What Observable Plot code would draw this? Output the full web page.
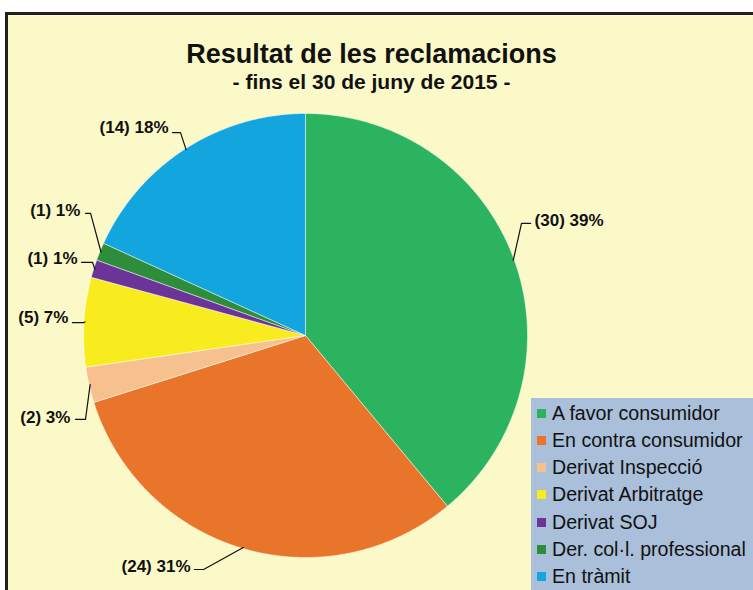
<!DOCTYPE html>
<html><head><meta charset="utf-8">
<script src="https://cdn.jsdelivr.net/npm/d3@7"></script>
<script src="https://cdn.jsdelivr.net/npm/@observablehq/plot@0.6"></script>
<style>
html,body{margin:0;padding:0;background:#fff}
body{width:753px;height:590px;overflow:hidden;position:relative;font-family:"Liberation Sans",Arial,sans-serif}
#frame{position:absolute;left:5px;top:12px;width:760px;height:590px;background:#FCF9C8;border-top:3px solid #231F20;border-left:3px solid #231F20}
#chart{position:absolute;left:0;top:0}
.t{position:absolute;left:0;width:743px;text-align:center;font-weight:bold;color:#111;line-height:1;white-space:nowrap}
#title{top:41px;font-size:27px}
#subtitle{top:71px;font-size:21px}
#legend{position:absolute;left:531px;top:398px;width:222px;height:192px;background:#A9BFDA}
.row{position:absolute;left:6px;height:20px;display:flex;align-items:center;font-size:19.6px;color:#111;white-space:nowrap}
.sw{width:9px;height:9px;margin-right:6px}
</style></head><body>
<div id="frame"></div>
<div id="chart"></div>
<div class="t" id="title">Resultat de les reclamacions</div>
<div class="t" id="subtitle">- fins el 30 de juny de 2015 -</div>
<div id="legend"></div>
<script>
const categories = ["A favor consumidor","En contra consumidor","Derivat Inspecció","Derivat Arbitratge","Derivat SOJ","Der. col·l. professional","En tràmit"];
const counts = [30, 24, 2, 5, 1, 1, 14];
const percents = [39, 31, 3, 7, 1, 1, 18];
const colors = ["#2BB35F","#E9752B","#F6C18F","#F9EC1E","#6C3398","#2D8D3B","#13A5DD"];

// label layout (unit-radius coordinates): leader start, elbow, text anchor
const labelLayout = [
  {sx: 1.014, sy: 0.505, ex: 0.973, ey: 0.505, tx: 1.032, ty: 0.518, anchor: "start"},
  {sx: -0.50, sy: -1.054, ex: -0.459, ey: -1.054, tx: -0.518, ty: -1.041, anchor: "end"},
  {sx: -1.036, sy: -0.378, ex: -0.991, ey: -0.378, tx: -1.059, ty: -0.369, anchor: "end"},
  {sx: -1.050, sy: 0.058, ex: -1.0, ey: 0.058, tx: -1.068, ty: 0.081, anchor: "end"},
  {sx: -1.009, sy: 0.329, ex: -0.959, ey: 0.329, tx: -1.027, ty: 0.347, anchor: "end"},
  {sx: -0.991, sy: 0.550, ex: -0.968, ey: 0.550, tx: -1.014, ty: 0.563, anchor: "end"},
  {sx: -0.599, sy: 0.914, ex: -0.563, ey: 0.914, tx: -0.617, ty: 0.937, anchor: "end"}
];

const total = d3.sum(counts);
const rad = d => d * Math.PI / 180;
let acc = 0;
const slices = counts.map((v, i) => {
  const a0 = acc / total * 360; acc += v; const a1 = acc / total * 360;
  return {name: categories[i], a0, a1, mid: (a0 + a1) / 2, i};
});
const slicePts = [];
for (const s of slices) {
  slicePts.push({name: s.name, x: 0, y: 0});
  const n = Math.max(2, Math.ceil((s.a1 - s.a0) / 0.5));
  for (let k = 0; k <= n; k++) {
    const a = rad(s.a0 + (s.a1 - s.a0) * k / n);
    slicePts.push({name: s.name, x: Math.sin(a), y: Math.cos(a)});
  }
  slicePts.push({name: s.name, x: 0, y: 0});
}
const leaderPts = [];
const labels = [];
slices.forEach((s, i) => {
  const L = labelLayout[i];
  const a = rad(s.mid);
  leaderPts.push({k: i, x: L.sx, y: L.sy}, {k: i, x: L.ex, y: L.ey}, {k: i, x: Math.sin(a) * 0.995, y: Math.cos(a) * 0.995});
  labels.push({x: L.tx, y: L.ty, anchor: L.anchor, text: `(${counts[i]}) ${percents[i]}%`});
});

const chart = Plot.plot({
  width: 753, height: 590, margin: 0,
  style: {background: "transparent", overflow: "visible", fontFamily: "'Liberation Sans', Arial, sans-serif"},
  x: {domain: [-1, 1], range: [83, 527], axis: null},
  y: {domain: [-1, 1], range: [557, 113], axis: null},
  color: {domain: categories, range: colors},
  marks: [
    Plot.line(slicePts, {x: "x", y: "y", z: "name", fill: "name", stroke: "#ffffff", strokeWidth: 0.8, strokeOpacity: 0.6, curve: "linear"}),
    Plot.line(leaderPts, {x: "x", y: "y", z: "k", stroke: "#111", strokeWidth: 1.2, curve: "linear"}),
    Plot.text(labels.filter(d => d.anchor === "start"), {x: "x", y: "y", text: "text", textAnchor: "start", fontSize: 17, fontWeight: "bold", fill: "#111"}),
    Plot.text(labels.filter(d => d.anchor === "end"), {x: "x", y: "y", text: "text", textAnchor: "end", fontSize: 17, fontWeight: "bold", fill: "#111"})
  ]
});
document.getElementById("chart").appendChild(chart);

const legend = document.getElementById("legend");
categories.forEach((c, i) => {
  const row = document.createElement("div");
  row.className = "row";
  row.style.top = (5 + i * 27.3) + "px";
  const sw = document.createElement("span");
  sw.className = "sw"; sw.style.background = colors[i];
  const tx = document.createElement("span");
  tx.textContent = c;
  row.appendChild(sw); row.appendChild(tx);
  legend.appendChild(row);
});
</script>
</body></html>
